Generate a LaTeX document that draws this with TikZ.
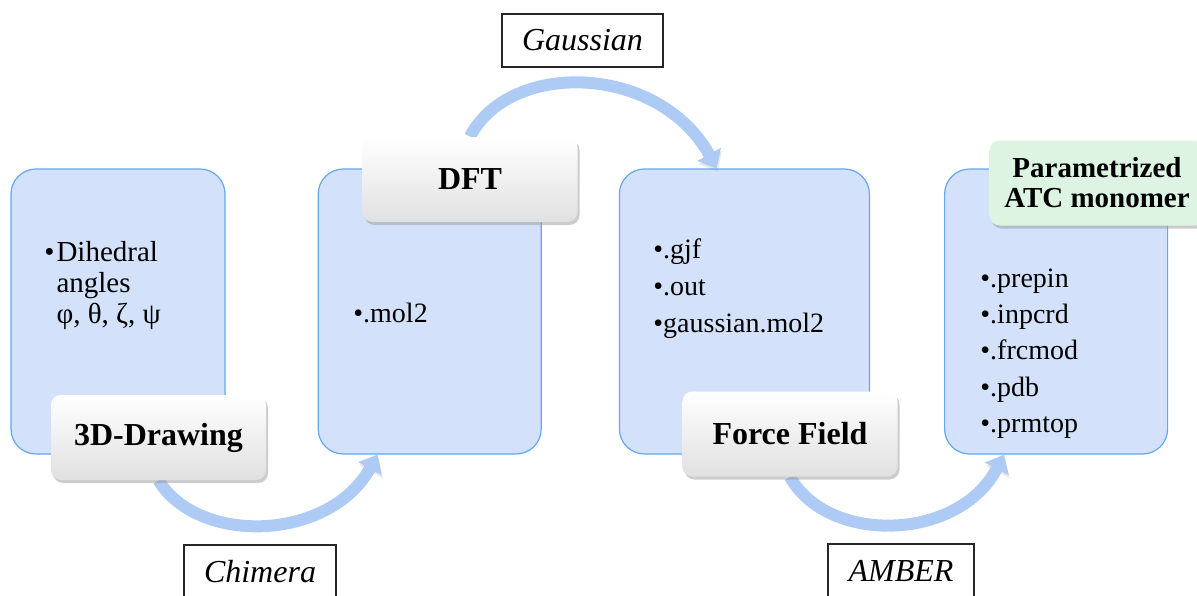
\documentclass[tikz,border=0pt]{standalone}
\usepackage{fontspec}
\setmainfont{Liberation Serif}
\usetikzlibrary{arrows.meta,positioning,shadows,backgrounds}

\definecolor{stagefill}{HTML}{D3E2FA}
\definecolor{stageline}{HTML}{66A6F2}
\definecolor{flowblue}{HTML}{AECBF5}
\definecolor{donegreen}{HTML}{DEF4E3}

\begin{document}
\begin{tikzpicture}[
  x=0.5pt, y=-0.5pt,
  every node/.style = {inner sep=0pt},
  stage/.style = {draw=stageline, line width=0.6pt, fill=stagefill,
                  rounded corners=12.5pt, minimum width=107pt, minimum height=142.5pt},
  tag/.style   = {rounded corners=5pt, top color=white, bottom color=black!12,
                  minimum width=107.5pt, minimum height=42.5pt, align=center,
                  font=\fontsize{16}{17}\selectfont\bfseries,
                  drop shadow={shadow xshift=1pt, shadow yshift=-1.5pt,
                               fill=black!40, opacity=0.5}},
  tool/.style  = {draw=black!85, line width=0.6pt, fill=white, minimum height=26.5pt,
                  font=\fontsize{16}{17}\selectfont\itshape},
  files/.style = {anchor=base west, font=\fontsize{14}{18.2}\selectfont},
  flow/.style  = {line width=6pt, draw=flowblue, -{Triangle[width=13pt,length=8pt]},
                  preaction={draw=black!45, opacity=0.2,
                             transform canvas={shift={(0.5pt,-1.5pt)}}}},
]
\useasboundingbox (0,0) rectangle (1197,595);

%% ---------- labels ----------
\node[tag] (L1) at (158.5,437.5) {3D-Drawing};
\node[tag] (L2) at (470,179.5)   {DFT};
\node[tag] (L3) at (790,434)     {Force Field};
\node[tag, top color=donegreen, bottom color=donegreen,
      font=\fontsize{14.5}{15}\selectfont\bfseries] (L4) at (1097,183) {Parametrized\\ATC monomer};

%% ---------- tools ----------
\node[tool, minimum width=80.5pt] (G) at (582.5,40.5) {Gaussian};
\node[tool, minimum width=76pt]   (C) at (260,571.5)  {Chimera};
\node[tool, minimum width=73pt]   (A) at (901,570.5)  {AMBER};

\begin{scope}[on background layer]
%% ---------- stages ----------
\node[stage] (B1) at (118,311.5) {};
\node[stage, minimum width=111.5pt, right=46pt of B1]   (B2) {};
\node[stage, minimum width=125pt,   right=38.5pt of B2] (B3) {};
\node[stage, minimum width=111.5pt, right=37pt of B3]   (B4) {};

%% ---------- arrows ----------
\draw[flow] (L1.south) .. controls +(40,65) and +(-48,87) .. ([xshift=30pt]B2.south west);
\draw[flow] (L2.north) .. controls +(40,-77) and +(-58,-105) .. ([xshift=49pt]B3.north west);
\draw[flow] (L3.south) .. controls +(38,68) and +(-45,87) .. ([xshift=30pt]B4.south west);
\end{scope}

%% ---------- contents ----------
\node[files, font=\fontsize{14.5}{15.7}\selectfont] (T1) at (44,261)
  {\begin{tabular}[t]{@{}l@{\hspace{1pt}}l@{}}•&Dihedral\\&angles\\&φ, θ, ζ, ψ\end{tabular}};
\node[files] (T2) at (353,322) {•.mol2};
\node[files, font=\fontsize{14}{18.5}\selectfont] (T3) at (653,258)
  {\begin{tabular}[t]{@{}l@{}}•.gjf\\•.out\\•gaussian.mol2\end{tabular}};
\node[files] (T4) at (980,287)
  {\begin{tabular}[t]{@{}l@{}}•.prepin\\•.inpcrd\\•.frcmod\\•.pdb\\•.prmtop\end{tabular}};

\end{tikzpicture}
\end{document}
